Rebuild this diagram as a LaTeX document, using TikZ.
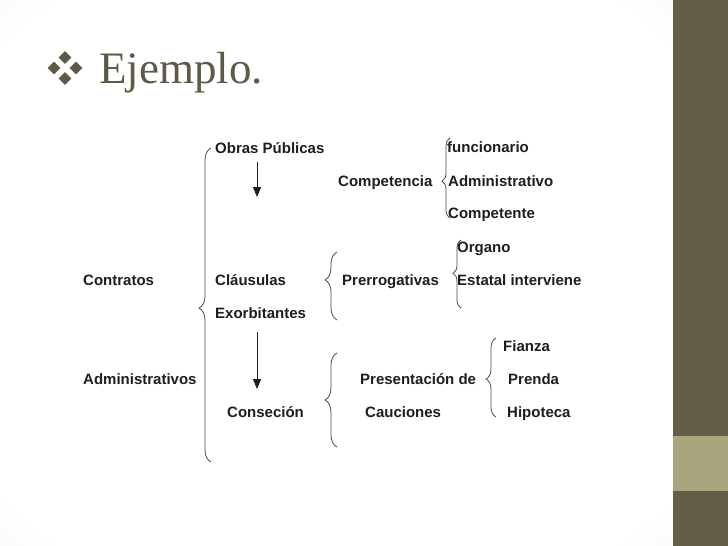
\documentclass[tikz,border=0pt]{standalone}
\usepackage{fontspec}
\setmainfont{Liberation Serif}
\setsansfont{Liberation Sans}
\usetikzlibrary{decorations.pathreplacing,arrows.meta}
\definecolor{bardark}{HTML}{655D47}
\definecolor{barolive}{HTML}{A9A67E}
\definecolor{titlecol}{HTML}{5F5A47}
\definecolor{txtcol}{HTML}{1E1E1E}
\definecolor{bracecol}{HTML}{4A4A4A}
\pgfdeclareradialshading{vign}{\pgfpoint{0bp}{0bp}}{color(0bp)=(white); color(32bp)=(white); color(72bp)=(black!18)}
\begin{document}
\begin{tikzpicture}[x=1pt,y=-1pt,
  lbl/.style={anchor=base west,inner sep=0pt,font=\fontsize{15}{18}\selectfont\sffamily\bfseries,text=txtcol},
  brc/.style={draw=bracecol,line width=0.8pt,decorate,decoration={brace,amplitude=#1}},
  brc/.default=10,
  arr/.style={draw=txtcol,line width=1pt,-{Triangle[length=10pt,width=8pt]}},
  dia/.style={fill=titlecol}]
\useasboundingbox (0,0) rectangle (728,546);
% background
\shade[shading=vign] (0,0) rectangle (673,546);
\fill[bardark] (673,0) rectangle (728,436);
\fill[barolive] (673,436) rectangle (728,491);
\fill[bardark] (673,491) rectangle (728,546);
% title bullet
\foreach \cx/\cy in {65/57.5, 54/68, 76/68, 65/78.5}{
  \fill[dia] (\cx-6.3,\cy) -- (\cx,\cy-6.3) -- (\cx+6.3,\cy) -- (\cx,\cy+6.3) -- cycle;
}
\node[anchor=base west,inner sep=0pt,font=\fontsize{45}{50}\selectfont,text=titlecol] (title) at (99,83) {Ejemplo.};
% labels
\node[lbl] (obras) at (215,153) {Obras Públicas};
\node[lbl] (comp) at (338,186) {Competencia};
\node[lbl] (func) at (447,152) {funcionario};
\node[lbl] (admin1) at (448,186) {Administrativo};
\node[lbl] (compte) at (448,218) {Competente};
\node[lbl] (organo) at (457,252) {Organo};
\node[lbl] (contr) at (83,285) {Contratos};
\node[lbl] (claus) at (215,285) {Cláusulas};
\node[lbl] (prerr) at (342,285) {Prerrogativas};
\node[lbl] (estat) at (457,285) {Estatal interviene};
\node[lbl] (exorb) at (215,318) {Exorbitantes};
\node[lbl] (fianza) at (503,351) {Fianza};
\node[lbl] (admin2) at (83,384) {Administrativos};
\node[lbl] (pres) at (360,384) {Presentación de};
\node[lbl] (prenda) at (508,384) {Prenda};
\node[lbl] (conse) at (227,417) {Conseción};
\node[lbl] (cauc) at (365,417) {Cauciones};
\node[lbl] (hipo) at (507,417) {Hipoteca};
% arrows
\coordinate (a1s) at (257,162);
\coordinate (a1e) at (257,197);
\coordinate (a2s) at (257,332);
\coordinate (a2e) at (257,389);
\draw[arr] (a1s) -- (a1e);
\draw[arr] (a2s) -- (a2e);
% braces (drawn bottom to top so the tip points left)
\draw[brc=12,decoration={aspect=0.49}] (211,462) -- (211,148);
\draw[brc=8,decoration={aspect=0.46}] (450,218) -- (450,138);
\draw[brc=8,decoration={aspect=0.51}] (461,308) -- (461,240);
\draw[brc=12,decoration={aspect=0.59}] (337,320) -- (337,252);
\draw[brc=12,decoration={aspect=0.5}] (337,447) -- (337,353);
\draw[brc=10,decoration={aspect=0.48}] (496,417) -- (496,338);
\end{tikzpicture}
\end{document}
